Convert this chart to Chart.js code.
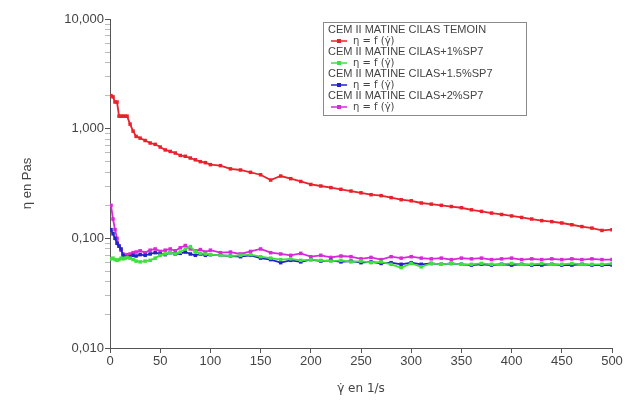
<!DOCTYPE html>
<html>
<head>
<meta charset="utf-8">
<script src="https://cdn.jsdelivr.net/npm/chart.js@4"></script>
<style>
    html, body { margin: 0; padding: 0; background: #fff; }
    #wrap { width: 635px; height: 408px; }
</style>
</head>
<body>
<div id="wrap"><canvas id="viscoChart"></canvas></div>
<script>
// shear rate (1/s)
const shearRate = [1, 3, 5, 7, 9, 11, 13, 15, 17, 20, 23, 26,
    30, 35, 40, 45, 50, 55, 60, 65, 70, 75, 80, 85, 90, 95, 100,
    110, 120, 130, 140, 150, 160, 170, 180, 190, 200, 210, 220, 230, 240, 250,
    260, 270, 280, 290, 300, 310, 320, 330, 340, 350, 360, 370, 380, 390, 400,
    410, 420, 430, 440, 450, 460, 470, 480, 490, 500];

// viscosity (Pa.s)
const temoin = [2.0, 1.95, 1.75, 1.75, 1.3, 1.3, 1.3, 1.3, 1.3, 1.1, 0.95, 0.85,
    0.82, 0.78, 0.74, 0.72, 0.68, 0.64, 0.62, 0.6, 0.57, 0.56, 0.54, 0.52, 0.5, 0.49, 0.47,
    0.46, 0.43, 0.42, 0.4, 0.38, 0.34, 0.37, 0.35, 0.33, 0.31, 0.3, 0.29, 0.28, 0.27, 0.26,
    0.25, 0.245, 0.235, 0.225, 0.22, 0.21, 0.205, 0.2, 0.195, 0.19, 0.182, 0.176, 0.17, 0.165, 0.16,
    0.155, 0.15, 0.145, 0.142, 0.138, 0.133, 0.128, 0.124, 0.118, 0.12];

const sp7_1 = [0.065, 0.066, 0.064, 0.063, 0.064, 0.066, 0.065, 0.066, 0.067, 0.066, 0.064, 0.062,
    0.061, 0.062, 0.063, 0.066, 0.07, 0.072, 0.074, 0.072, 0.075, 0.08, 0.084, 0.076, 0.073, 0.072, 0.071,
    0.07, 0.069, 0.07, 0.071, 0.068, 0.066, 0.064, 0.065, 0.063, 0.064, 0.063, 0.062, 0.063, 0.061, 0.062,
    0.06, 0.061, 0.058, 0.054, 0.059, 0.055, 0.059, 0.058, 0.059, 0.058, 0.058, 0.059, 0.058, 0.058, 0.059,
    0.058, 0.058, 0.059, 0.058, 0.058, 0.059, 0.058, 0.058, 0.058, 0.059];

const sp7_15 = [0.12, 0.11, 0.1, 0.09, 0.085, 0.08, 0.07, 0.068, 0.067, 0.068, 0.07, 0.069,
    0.071, 0.07, 0.072, 0.074, 0.072, 0.071, 0.074, 0.072, 0.073, 0.075, 0.072, 0.07, 0.072, 0.07, 0.071,
    0.07, 0.069, 0.068, 0.07, 0.066, 0.064, 0.06, 0.063, 0.061, 0.064, 0.062, 0.063, 0.061, 0.062, 0.06,
    0.061, 0.059, 0.06, 0.058, 0.06, 0.058, 0.059, 0.058, 0.059, 0.058, 0.057, 0.058, 0.057, 0.058, 0.057,
    0.058, 0.057, 0.057, 0.058, 0.057, 0.057, 0.058, 0.057, 0.057, 0.057];

const sp7_2 = [0.2, 0.15, 0.12, 0.1, 0.085, 0.078, 0.072, 0.07, 0.071, 0.072, 0.074, 0.075,
    0.077, 0.074, 0.078, 0.08, 0.076, 0.078, 0.08, 0.077, 0.082, 0.086, 0.08, 0.077, 0.079, 0.075, 0.078,
    0.074, 0.075, 0.072, 0.076, 0.08, 0.074, 0.072, 0.07, 0.073, 0.068, 0.07, 0.067, 0.069, 0.068, 0.065,
    0.067, 0.064, 0.068, 0.066, 0.068, 0.066, 0.065, 0.066, 0.064, 0.066, 0.065, 0.066, 0.064, 0.065, 0.066,
    0.064, 0.065, 0.064, 0.065, 0.064, 0.065, 0.064, 0.065, 0.064, 0.064];

const seriesNames = ['CEM II MATINE CILAS TEMOIN', 'CEM II MATINE CILAS+1%SP7',
    'CEM II MATINE CILAS+1.5%SP7', 'CEM II MATINE CILAS+2%SP7'];
const seriesColors = ['#e8222c', '#3fe03f', '#2323c8', '#d828d8'];
const seriesValues = [temoin, sp7_1, sp7_15, sp7_2];

const xTicks = [0, 50, 100, 150, 200, 250, 300, 350, 400, 450, 500];
const yDecades = [0.01, 0.1, 1, 10];

const labelFont = '"Liberation Sans", Arial, sans-serif';
const symbolFont = '"DejaVu Sans", "Noto Sans", sans-serif';

function toPoints(values) {
    return values.map((v, i) => ({ x: shearRate[i], y: v }));
}

const legendBox = {
    id: 'legendBox',
    afterDraw(chart) {
        const ctx = chart.ctx;
        const x0 = 323, y0 = 22, w = 203, rowH = 11;
        const sets = chart.data.datasets;
        const h = sets.length * 2 * rowH + 5;
        ctx.save();
        ctx.fillStyle = '#fff';
        ctx.fillRect(x0, y0, w, h);
        ctx.strokeStyle = '#8a8a8a';
        ctx.lineWidth = 1;
        ctx.strokeRect(x0 + 0.5, y0 + 0.5, w, h);
        ctx.textBaseline = 'middle';
        sets.forEach((ds, i) => {
            const yName = y0 + 8 + i * 2 * rowH;
            const yEq = yName + rowH;
            ctx.font = '11px ' + labelFont;
            ctx.fillStyle = '#444';
            ctx.fillText(ds.label, x0 + 5, yName);
            ctx.strokeStyle = ds.borderColor;
            ctx.lineWidth = 1.5;
            ctx.beginPath();
            ctx.moveTo(x0 + 8, yEq);
            ctx.lineTo(x0 + 24, yEq);
            ctx.stroke();
            ctx.fillStyle = ds.borderColor;
            ctx.fillRect(x0 + 14, yEq - 2, 4, 4);
            ctx.font = '10px ' + symbolFont;
            ctx.fillStyle = '#444';
            ctx.fillText('\u03b7 = f (\u03b3\u0307)', x0 + 30, yEq);
        });
        ctx.restore();
    }
};

const ctx = document.getElementById('viscoChart').getContext('2d');
new Chart(ctx, {
    type: 'line',
    data: {
        datasets: seriesValues.map((vals, i) => ({
            label: seriesNames[i],
            data: toPoints(vals),
            borderColor: seriesColors[i],
            backgroundColor: seriesColors[i],
            borderWidth: 1.8,
            pointRadius: 1.2,
            pointStyle: 'rect',
            tension: 0
        }))
    },
    options: {
        responsive: true,
        maintainAspectRatio: false,
        animation: false,
        layout: { padding: { top: 19, right: 23, left: 0, bottom: 0 } },
        plugins: { legend: { display: false }, tooltip: { enabled: false } },
        scales: {
            x: {
                type: 'linear',
                min: 0, max: 500,
                afterBuildTicks: (scale) => { scale.ticks = xTicks.map(v => ({ value: v })); },
                afterFit: (scale) => { scale.height = 60; },
                border: { color: '#555', width: 1 },
                grid: { drawOnChartArea: false, tickLength: 5, color: '#555' },
                ticks: {
                    color: '#444', padding: 1, maxRotation: 0,
                    font: { family: labelFont, size: 13 }
                },
                title: {
                    display: true, text: '\u03b3\u0307 en 1/s', color: '#444',
                    font: { family: symbolFont, size: 12 },
                    padding: { top: 4, bottom: 12 }
                }
            },
            y: {
                type: 'logarithmic',
                min: 0.01, max: 10,
                afterBuildTicks: (scale) => {
                    const t = [];
                    yDecades.forEach((d, k) => {
                        t.push({ value: d, major: true });
                        if (k < yDecades.length - 1) {
                            for (let m = 2; m <= 9; m++) t.push({ value: d * m });
                        }
                    });
                    scale.ticks = t;
                },
                afterFit: (scale) => { scale.width = 110; },
                border: { color: '#555', width: 1 },
                grid: {
                    drawOnChartArea: false, tickLength: 5,
                    color: (c) => (c.tick && c.tick.major ? '#555' : '#bbb')
                },
                ticks: {
                    color: '#444', padding: 1, autoSkip: false,
                    font: { family: labelFont, size: 13 },
                    callback: (v) => (yDecades.some(d => Math.abs(d - v) < 1e-9) ? v.toFixed(3).replace('.', ',') : '')
                },
                title: {
                    display: true, text: '\u03b7 en Pas', color: '#444',
                    font: { family: labelFont, size: 13 },
                    padding: { top: 20, bottom: 0 }
                }
            }
        }
    },
    plugins: [legendBox]
});
</script>
</body>
</html>
